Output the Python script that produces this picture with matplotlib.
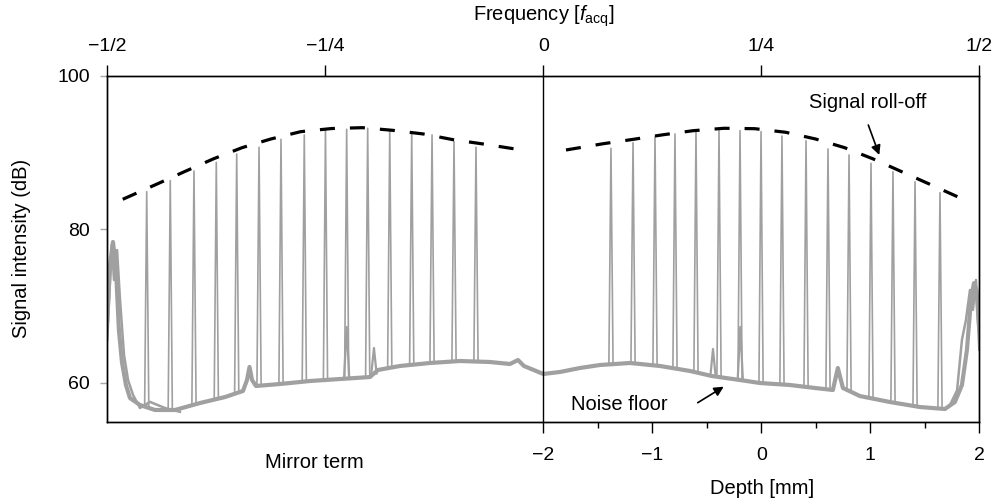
import numpy as np
import matplotlib
matplotlib.use("Agg")
import matplotlib.pyplot as plt

plt.rcParams['font.family'] = ['Liberation Sans', 'DejaVu Sans']
plt.rcParams['mathtext.fontset'] = 'custom'
plt.rcParams['mathtext.rm'] = 'Liberation Sans'
plt.rcParams['mathtext.it'] = 'Liberation Sans:italic'

# ---------------- data (x in units of f_acq, y in dB) ----------------
peak_freq = [-0.4548, -0.4278, -0.4006, -0.3750, -0.3516, -0.3260, -0.3008, -0.2741,
             -0.2498, -0.2255, -0.2014, -0.1761, -0.1509, -0.1276, -0.1024, -0.0772,
             0.0776, 0.1029, 0.1281, 0.1510, 0.1751, 0.2015, 0.2256, 0.2497,
             0.2737, 0.3013, 0.3265, 0.3506, 0.3758, 0.4010, 0.4263, 0.4549]
peak_db = [84.91, 86.35, 87.61, 88.74, 89.83, 90.70, 91.74, 92.31,
           93.02, 93.05, 93.18, 92.87, 92.61, 92.31, 91.43, 90.70,
           90.57, 91.30, 92.08, 92.44, 92.74, 92.87, 92.87, 92.74,
           92.17, 91.56, 90.48, 89.70, 88.61, 87.52, 86.21, 84.78]

floor_freq = [-0.5, -0.4969, -0.4935, -0.4901, -0.4867, -0.4832, -0.4786, -0.4740,
              -0.4625, -0.4453, -0.4224, -0.3937, -0.3650, -0.3444, -0.3398, -0.3369,
              -0.3340, -0.3295, -0.3020, -0.2676, -0.2332, -0.1988, -0.1896, -0.1644,
              -0.1300, -0.0956, -0.0612, -0.0382, -0.0290, -0.0222, 0.0, 0.0192,
              0.0421, 0.0650, 0.0994, 0.1338, 0.1682, 0.1934, 0.2255, 0.2484,
              0.2828, 0.3115, 0.3321, 0.3378, 0.3436, 0.3631, 0.3975, 0.4319,
              0.4606, 0.4720, 0.4801, 0.4858, 0.4904, 0.4939, 0.4968, 0.5]
floor_db = [68.2, 75.35, 78.35, 74.96, 66.87, 62.70, 59.70, 58.0,
            57.09, 56.44, 56.44, 57.35, 58.13, 58.92, 60.35, 62.05,
            60.35, 59.57, 59.83, 60.22, 60.48, 60.74, 61.66, 62.18,
            62.57, 62.83, 62.70, 62.44, 62.96, 62.18, 61.14, 61.40,
            61.92, 62.31, 62.57, 62.18, 61.53, 60.87, 60.35, 59.96,
            59.70, 59.31, 59.05, 61.92, 59.31, 58.26, 57.48, 56.83,
            56.57, 57.48, 59.70, 64.26, 70.79, 73.0, 72.09, 66.87]

edge_left_freq = [-0.5, -0.4980, -0.4949, -0.4923, -0.4888, -0.4854, -0.4808,
                  -0.4762, -0.4705, -0.4625, -0.4511, -0.4339, -0.4167]
edge_left_db = [65.6, 70.8, 78.0, 73.4, 77.3, 70.8, 63.6,
                60.35, 58.4, 56.7, 57.5, 56.7, 56.2]
edge_right_freq = [0.4664, 0.4745, 0.4801, 0.4847, 0.4893, 0.4927, 0.4962, 0.5]
edge_right_db = [57.1, 59.0, 65.6, 68.2, 72.1, 69.5, 73.4, 64.3]

spike_freq = [-0.2255, -0.1942, 0.1946, 0.2259]
spike_db = [67.27, 64.53, 64.40, 67.27]

env_left_freq = [-0.4823, -0.4430, -0.4106, -0.3780, -0.3455, -0.3126, -0.2782,
                 -0.2427, -0.2076, -0.1732, -0.1376, -0.1032, -0.0688, -0.0248]
env_left_db = [83.92, 85.91, 87.57, 89.21, 90.65, 91.78, 92.74,
               93.15, 93.26, 92.92, 92.44, 91.69, 91.13, 90.35]
env_right_freq = [0.0260, 0.0688, 0.1032, 0.1376, 0.1720, 0.2072, 0.2424,
                  0.2780, 0.3124, 0.3456, 0.3784, 0.4110, 0.4427, 0.4825]
env_right_db = [90.35, 91.17, 91.74, 92.34, 92.87, 93.18, 93.13,
                92.66, 91.78, 90.65, 89.18, 87.52, 85.91, 83.87]

top_ticks = [-0.5, -0.25, 0.0, 0.25, 0.5]
top_labels = ['\u22121/2', '\u22121/4', '0', '1/4', '1/2']
depth_ticks = [0.0, 0.125, 0.25, 0.375, 0.5]
depth_labels = ['\u22122', '\u22121', '0', '1', '2']
depth_minor = [0.0625, 0.1875, 0.3125, 0.4375]
y_ticks = [60, 80, 100]

# ---------------- figure ----------------
W, H = 1007, 500
fig = plt.figure(figsize=(W / 100, H / 100), dpi=100)
L, R, T, B = 107.3, 979.3, 76.0, 421.5
ax = fig.add_axes([L / W, 1 - B / H, (R - L) / W, (B - T) / H])
ax.set_xlim(-0.5, 0.5)
ax.set_ylim(54.94, 100)

gray = '#a0a0a0'
ax.plot(floor_freq, floor_db, color=gray, lw=3.0, solid_joinstyle='round', zorder=2)
ax.plot(edge_left_freq, edge_left_db, color=gray, lw=1.8, zorder=2)
ax.plot(edge_right_freq, edge_right_db, color=gray, lw=1.8, zorder=2)

w = 0.0024
for f, h in zip(peak_freq, peak_db):
    base = np.interp(f, floor_freq, floor_db)
    ax.plot([f - w, f, f + w], [base, h, base], color=gray, lw=1.2, zorder=3)
for f, h in zip(spike_freq, spike_db):
    base = np.interp(f, floor_freq, floor_db)
    ax.plot([f - 0.003, f, f + 0.003], [base, h, base], color=gray, lw=1.6, zorder=3)

for ef, ed in ((env_left_freq, env_left_db), (env_right_freq, env_right_db)):
    ax.plot(ef, ed, color='black', lw=2.3, dashes=(4.7, 4.7), dash_capstyle='butt', zorder=4)

ax.axvline(0, color='black', lw=1.0, zorder=5)

for s in ax.spines.values():
    s.set_linewidth(1.0)
    s.set_color('black')

ax.set_yticks(y_ticks)
ax.tick_params(axis='y', direction='out', length=5, width=1, color='#a8a8a8',
               labelsize=14, pad=7.5)
ax.set_xticks(depth_ticks)
ax.set_xticklabels(depth_labels)
ax.set_xticks(depth_minor, minor=True)
ax.tick_params(axis='x', which='major', direction='out', length=8, width=1,
               labelsize=14, pad=10)
ax.tick_params(axis='x', which='minor', direction='out', length=4, width=1)

ax2 = ax.twiny()
ax2.set_xlim(-0.5, 0.5)
ax2.set_xticks(top_ticks)
ax2.set_xticklabels(top_labels)
ax2.tick_params(axis='x', direction='out', length=8, width=1, labelsize=14, pad=7)
for s in ax2.spines.values():
    s.set_linewidth(1.0)

fig.text(543.3 / W, 1 - 16 / H, 'Frequency [$f_{\\mathrm{acq}}$]', ha='center', va='center', fontsize=14.5)
fig.text(761.7 / W, 1 - 488 / H, 'Depth [mm]', ha='center', va='center', fontsize=14.5)
fig.text(314 / W, 1 - 463 / H, 'Mirror term', ha='center', va='center', fontsize=14.5)
fig.text(22 / W, 1 - 248.7 / H, 'Signal intensity (dB)', ha='center', va='center',
         rotation=90, fontsize=14.5)

arrow = dict(arrowstyle='-|>', color='black', lw=1.2, mutation_scale=14, shrinkA=0, shrinkB=0)
ax.annotate('', xy=(0.2069, 59.48), xytext=(0.1771, 57.39), arrowprops=arrow, zorder=6)
ax.text(0.0868, 57.22, 'Noise floor', fontsize=14.5, ha='center', va='center')

ax.annotate('', xy=(0.3853, 89.70), xytext=(0.3727, 93.61), arrowprops=arrow, zorder=6)
ax.text(0.3724, 96.48, 'Signal roll-off', fontsize=14.5, ha='center', va='center')

fig.savefig('out.png', dpi=100)
